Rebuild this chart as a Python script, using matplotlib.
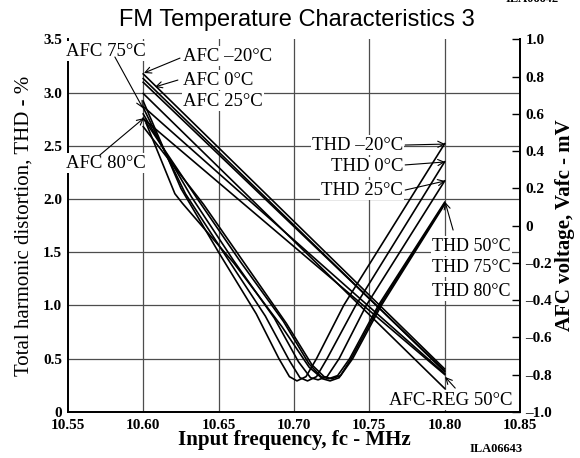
import matplotlib.pyplot as plt

plt.rcParams['font.family'] = ['Liberation Serif', 'DejaVu Serif']

# THD curves (left axis, %)
thd_m20_f = [10.600, 10.625, 10.650, 10.675, 10.690, 10.697, 10.702, 10.708, 10.715, 10.733, 10.800]
thd_m20 = [2.92, 2.10, 1.50, 0.92, 0.50, 0.33, 0.29, 0.33, 0.50, 1.00, 2.52]
thd_0_f = [10.600, 10.628, 10.655, 10.681, 10.697, 10.704, 10.709, 10.715, 10.722, 10.741, 10.800]
thd_0 = [2.86, 2.05, 1.46, 0.90, 0.48, 0.32, 0.29, 0.33, 0.50, 1.00, 2.35]
thd_25_f = [10.600, 10.632, 10.660, 10.687, 10.703, 10.711, 10.716, 10.722, 10.730, 10.748, 10.800]
thd_25 = [2.80, 2.02, 1.42, 0.88, 0.47, 0.32, 0.30, 0.33, 0.50, 1.00, 2.17]
thd_50_f = [10.600, 10.636, 10.665, 10.693, 10.710, 10.718, 10.723, 10.729, 10.737, 10.756, 10.800]
thd_50 = [2.76, 2.00, 1.40, 0.85, 0.45, 0.33, 0.31, 0.34, 0.50, 1.00, 1.97]
thd_75_f = [10.602, 10.621, 10.626, 10.660, 10.692, 10.710, 10.719, 10.724, 10.730, 10.738, 10.757, 10.800]
thd_75 = [2.71, 2.05, 1.96, 1.40, 0.80, 0.42, 0.31, 0.29, 0.32, 0.50, 1.00, 1.96]
thd_80_f = [10.600, 10.640, 10.668, 10.695, 10.712, 10.720, 10.725, 10.731, 10.739, 10.758, 10.800]
thd_80 = [2.68, 1.95, 1.38, 0.83, 0.44, 0.33, 0.31, 0.34, 0.50, 1.00, 1.95]

# AFC lines (right axis, mV)
afc_f = [10.60, 10.80]
afc_m20 = [0.815, -0.77]
afc_0 = [0.79, -0.785]
afc_25 = [0.77, -0.78]
afc_reg50 = [0.71, -0.875]
afc_75 = [0.64, -0.795]
afc_80 = [0.575, -0.80]

x_ticks = [10.55, 10.60, 10.65, 10.70, 10.75, 10.80, 10.85]
left_ticks = [0, 0.5, 1.0, 1.5, 2.0, 2.5, 3.0, 3.5]
left_labels = ['0', '0.5', '1.0', '1.5', '2.0', '2.5', '3.0', '3.5']
right_ticks = [-1.0, -0.8, -0.6, -0.4, -0.2, 0, 0.2, 0.4, 0.6, 0.8, 1.0]
right_labels = ['\u20131.0', '\u20130.8', '\u20130.6', '\u20130.4', '\u20130.2', '0',
                '0.2', '0.4', '0.6', '0.8', '1.0']

fig = plt.figure(figsize=(5.8, 4.58), dpi=100)
ax = fig.add_axes([0.117, 0.101, 0.7796, 0.8128])
ax2 = ax.twinx()

lw = 1.2
for f, v in [(thd_m20_f, thd_m20), (thd_0_f, thd_0), (thd_25_f, thd_25),
             (thd_50_f, thd_50), (thd_75_f, thd_75), (thd_80_f, thd_80)]:
    ax.plot(f, v, color='black', lw=lw, zorder=3)

for v in [afc_m20, afc_0, afc_25, afc_reg50, afc_75, afc_80]:
    ax2.plot(afc_f, v, color='black', lw=lw, zorder=3)

ax.set_xlim(10.55, 10.85)
ax.set_ylim(0, 3.5)
ax2.set_ylim(-1, 1)

# grid
for xv in x_ticks[1:-1]:
    ax.axvline(xv, color='0.3', lw=0.9, zorder=1)
for yv in left_ticks[1:-1]:
    ax.axhline(yv, color='0.3', lw=0.9, zorder=1)

ax.set_xticks(x_ticks)
ax.set_xticklabels(['%.2f' % t for t in x_ticks], fontsize=11, fontweight='bold')
ax.set_yticks(left_ticks)
ax.set_yticklabels(left_labels, fontsize=11, fontweight='bold')
ax.tick_params(axis='x', length=0, pad=5)
ax.tick_params(axis='y', length=0, pad=4)
ax2.set_yticks(right_ticks)
ax2.set_yticklabels(right_labels, fontsize=11, fontweight='bold')
ax2.tick_params(axis='y', direction='in', length=6, width=1, pad=4)

for a in (ax, ax2):
    a.spines['top'].set_visible(False)
    for s in ('left', 'bottom', 'right'):
        a.spines[s].set_linewidth(1.3)

ax.set_xlabel('Input frequency, fc - MHz', fontsize=15, fontweight='bold', labelpad=-1)
ax.set_ylabel('Total harmonic distortion, THD - %', fontsize=15, labelpad=7)
ax2.set_ylabel('AFC voltage, Vafc - mV', fontsize=15, fontweight='bold', labelpad=2)

fig.text(0.512, 0.957, 'FM Temperature Characteristics 3', ha='center', va='center',
         fontsize=17, family='Liberation Sans')
fig.text(0.872, 1.003, 'ILA06642', ha='left', va='center', fontsize=9, fontweight='bold')
fig.text(0.81, 0.02, 'ILA06643', ha='left', va='center', fontsize=9, fontweight='bold')

box = dict(facecolor='white', edgecolor='none', pad=1)
tfs = 13.5
arrow = dict(arrowstyle='->', color='black', lw=0.8, shrinkA=0, shrinkB=0,
             mutation_scale=11)

labels = [
    ('AFC 75\u00b0C', 10.5752, 0.938, 'center', tfs),
    ('AFC \u201320\u00b0C', 10.6264, 0.911, 'left', tfs),
    ('AFC 0\u00b0C', 10.6264, 0.782, 'left', tfs),
    ('AFC 25\u00b0C', 10.6264, 0.669, 'left', tfs),
    ('AFC 80\u00b0C', 10.5752, 0.336, 'center', tfs),
    ('THD \u201320\u00b0C', 10.7724, 0.433, 'right', tfs),
    ('THD 0\u00b0C', 10.7724, 0.315, 'right', tfs),
    ('THD 25\u00b0C', 10.7724, 0.191, 'right', tfs),
    ('THD 50\u00b0C', 10.8440, -0.11, 'right', 13),
    ('THD 75\u00b0C', 10.8440, -0.223, 'right', 13),
    ('THD 80\u00b0C', 10.8440, -0.352, 'right', 13),
    ('AFC-REG 50\u00b0C', 10.8448, -0.937, 'right', tfs),
]
for txt, xv, yv, ha, fs in labels:
    ax2.text(xv, yv, txt, ha=ha, va='center', fontsize=fs, bbox=box, zorder=6)

arrows = [
    ((10.5812, 0.906), (10.5998, 0.631)),
    ((10.6244, 0.900), (10.6005, 0.820)),
    ((10.6230, 0.782), (10.6078, 0.745)),
    ((10.5712, 0.379), (10.6005, 0.578)),
    ((10.7738, 0.433), (10.8003, 0.438)),
    ((10.7738, 0.326), (10.8003, 0.342)),
    ((10.7738, 0.191), (10.8003, 0.240)),
    ((10.8056, -0.024), (10.8003, 0.127)),
    ((10.8070, -0.873), (10.8003, -0.813)),
]
for tail, tip in arrows:
    ax2.annotate('', xy=tip, xytext=tail, arrowprops=arrow, zorder=7)

fig.savefig('out.png', dpi=100)
